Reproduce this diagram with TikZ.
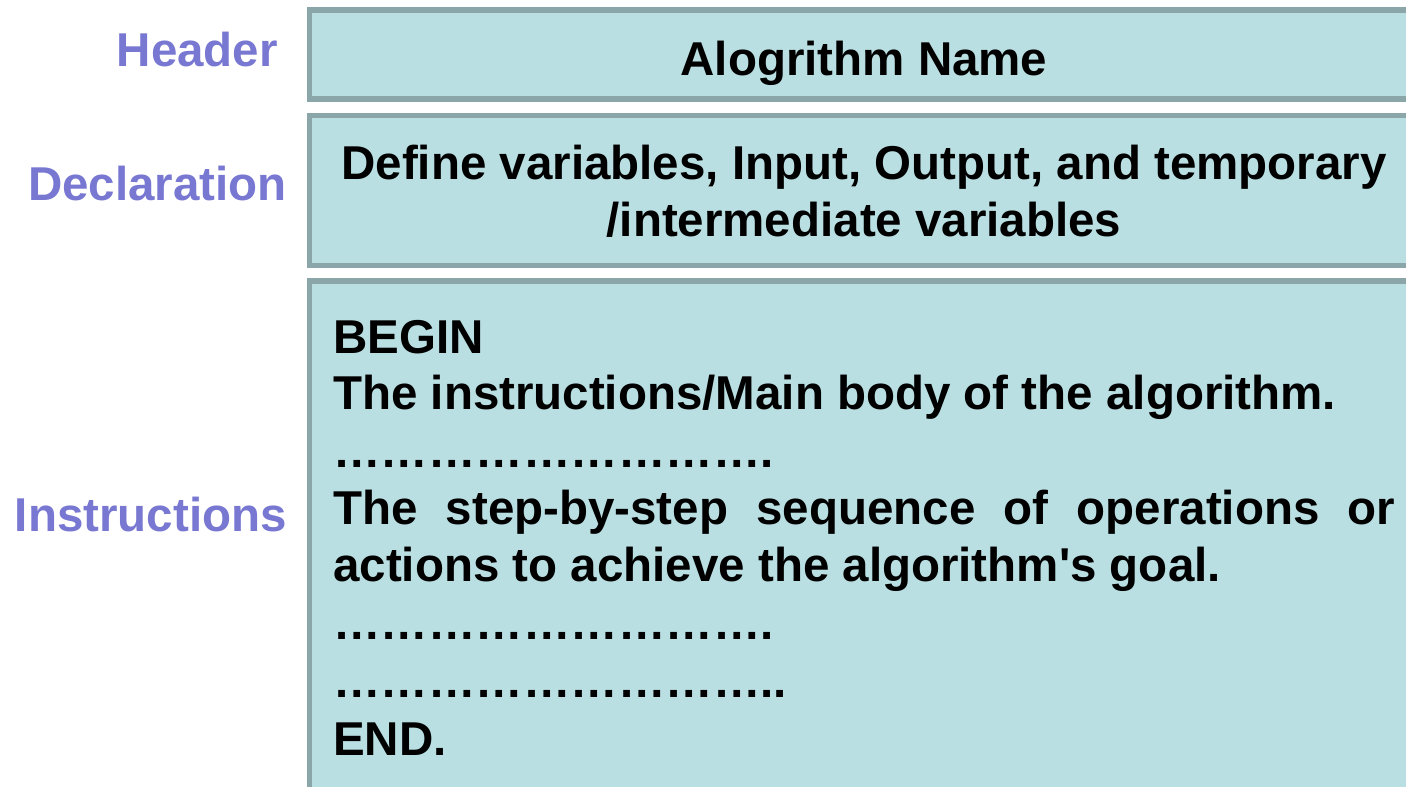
\documentclass[tikz,border=0pt]{standalone}
\usepackage{fontspec}
\setmainfont{Liberation Sans}[Ligatures=TeXOff]
\definecolor{boxfill}{RGB}{185,223,226}
\definecolor{boxline}{RGB}{138,166,168}
\definecolor{labelcol}{RGB}{120,120,210}
% three ellipsis characters (U+2026)
\newcommand\ellthree{\char"2026\char"2026\char"2026}
\newcommand\ellrow{\ellthree\ellthree\ellthree}
\tikzset{
  panel/.style={draw=boxline, line width=5.5pt, fill=boxfill},
  sidelabel/.style={anchor=base east, inner sep=0pt, text=labelcol,
    font=\fontsize{47.5}{57}\selectfont\bfseries},
  bodytext/.style={inner sep=0pt, text=black,
    font=\fontsize{47.5}{57}\selectfont\bfseries},
  bodyline/.style={bodytext, anchor=base west},
}
\begin{document}
\begin{tikzpicture}[x=1pt,y=-1pt]
  \useasboundingbox (0,0) rectangle (1406,787);
  \begin{scope}
    \clip (0,0) rectangle (1406,787);
    % the three panels run off the right and bottom edges
    \draw[panel] (309.5,10) rectangle (1430,99);
    \draw[panel] (309.5,115.5) rectangle (1430,265.5);
    \draw[panel] (309.5,281) rectangle (1430,820);
  \end{scope}

  % left-hand captions
  \node[sidelabel] (lheader) at (278,66.5) {Header};
  \node[sidelabel] (ldecl) at (287,200) {Declaration};
  \node[sidelabel] (linstr) at (287,531.5) {Instructions};

  % header panel
  \node[bodytext, anchor=base] (title) at (864,75) {Alogrithm Name};

  % declaration panel
  \node[bodytext, anchor=base] (decl1) at (864,179.5) {Define variables, Input, Output, and temporary};
  \node[bodytext, anchor=base] (decl2) at (864,236.5) {/intermediate variables};

  % instructions panel
  \node[bodyline] (i1) at (333,353) {BEGIN};
  \node[bodyline] (i2) at (333,409) {The instructions/Main body of the algorithm.};
  \node[bodyline] (i3) at (333,467) {\ellrow.};
  \node[bodyline] (i4) at (333,524) {\makebox[1062pt][s]{The step-by-step sequence of operations or}};
  \node[bodyline] (i5) at (333,581) {actions to achieve the algorithm's goal.};
  \node[bodyline] (i6) at (333,639) {\ellrow.};
  \node[bodyline] (i7) at (333,697) {\ellrow..};
  \node[bodyline] (i8) at (333,755) {END.};
\end{tikzpicture}
\end{document}
